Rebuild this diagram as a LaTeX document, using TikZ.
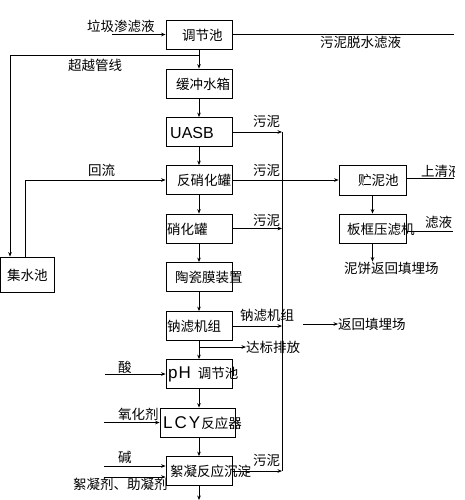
\documentclass[tikz,border=0pt]{standalone}
\usepackage{fontspec}
\setmainfont{Noto Sans CJK SC}
\newfontfamily\latinf{Liberation Sans}
\usetikzlibrary{arrows.meta,calc}
\begin{document}
\begin{tikzpicture}[x=1pt,y=-1pt,
  box/.style={draw, line width=0.8pt, minimum width=66pt, minimum height=29pt, inner sep=0pt},
  lbl/.style={inner sep=0pt, anchor=west, font=\fontsize{13.5}{14}\selectfont},
  arr/.style={-{Stealth[length=4.5pt,width=3.6pt]}, line width=0.8pt},
  ln/.style={line width=0.8pt}]
\useasboundingbox (0,0) rectangle (464,500);
% boxes
\node[box] (tj) at (199,34.5) {};
\node[box] (hc) at (199,83.5) {};
\node[box] (uasb) at (199,132) {};
\node[box] (fx) at (199,180) {};
\node[box] (xh) at (199,228.5) {};
\node[box] (tc) at (199,277) {};
\node[box] (nl) at (199,326) {};
\node[box] (ph) at (199,374) {};
\node[box, minimum width=75pt] (lcy) at (197.5,422.5) {};
\node[box] (xn) at (199,471) {};
\node[box, minimum width=54pt, minimum height=35pt] (js) at (27.5,274.5) {};
\node[box, minimum width=67pt, minimum height=30pt] (zn) at (372.5,180) {};
\node[box, minimum width=67pt] (bk) at (372.5,228.5) {};
% box texts
\node[lbl] (ttj) at (182,35) {调节池};
\node[lbl] (thc) at (176,84) {缓冲水箱};
\node[lbl, font=\latinf\fontsize{16}{16}\selectfont] (tuasb) at (170,133) {UASB};
\node[lbl] (tfx) at (177,180) {反硝化罐};
\node[lbl] (txh) at (167,229) {硝化罐};
\node[lbl] (ttc) at (175,277) {陶瓷膜装置};
\node[lbl] (tnl) at (167,326) {钠滤机组};
\node[lbl] (tph) at (168,374) {{\latinf\fontsize{17}{17}\selectfont p\kern1ptH}\hspace{7pt}调节池};
\node[lbl] (tlcy) at (163,423) {{\latinf\fontsize{17}{17}\selectfont L\kern2ptC\kern2ptY}\hspace{1pt}反应器};
\node[lbl] (txn) at (170,471) {絮凝反应沉淀};
\node[lbl] (tjs) at (7,275) {集水池};
\node[lbl] (tzn) at (358,180) {贮泥池};
\node[lbl] (tbk) at (347,229) {板框压滤机};
% labels
\node[lbl] (l1) at (87,26) {垃圾渗滤液};
\node[lbl] (l2) at (320,42) {污泥脱水滤液};
\node[lbl] (l3) at (68,65) {超越管线};
\node[lbl] (l4) at (253,121.5) {污泥};
\node[lbl] (l5) at (88,170.5) {回流};
\node[lbl] (l6) at (253,170) {污泥};
\begin{scope}
  \clip (400,150) rectangle (454,200);
  \node[lbl] (l7) at (421,171) {上清液};
\end{scope}
\node[lbl] (l8) at (253,220) {污泥};
\node[lbl] (l9) at (425,222) {滤液};
\node[lbl] (l10) at (344,268) {泥饼返回填埋场};
\node[lbl] (l11) at (240,315) {钠滤机组};
\node[lbl] (l12) at (338,324) {返回填埋场};
\node[lbl] (l13) at (246,347) {达标排放};
\node[lbl] (l14) at (118,367.5) {酸};
\node[lbl] (l15) at (118,414) {氧化剂};
\node[lbl] (l16) at (118,457.5) {碱};
\node[lbl] (l17) at (73,484) {絮凝剂、助凝剂};
\node[lbl] (l18) at (253,460) {污泥};
% coordinates
\coordinate (in0) at (112,34.5);
\coordinate (r1) at (454,34.5);
\coordinate (bp) at (199,55);
\coordinate (bpl) at (10,55);
\coordinate (sx) at (282,0);
\coordinate (db) at (199,347);
\coordinate (fh) at (303,324);
\coordinate (sq) at (454,178);
\coordinate (lyc) at (453,231);
\coordinate (c1) at (105,374);
\coordinate (c2) at (104,422.5);
\coordinate (c3) at (104,466);
\coordinate (c4) at (104,477);
\coordinate (out) at (199,500);
% main flow
\draw[arr] (in0) -- (tj.west);
\draw[ln] (tj.east) -- (r1);
\draw[arr] (tj.south) -- (hc.north);
\draw[arr] (hc.south) -- (uasb.north);
\draw[arr] (uasb.south) -- (fx.north);
\draw[arr] (fx.south) -- (xh.north);
\draw[arr] (xh.south) -- (tc.north);
\draw[arr] (tc.south) -- (nl.north);
\draw[arr] (nl.south) -- (ph.north);
\draw[arr] (ph.south) -- (ph.south |- lcy.north);
\draw[arr] (lcy.south -| xn.north) -- (xn.north);
\draw[arr] (xn.south) -- (out);
% bypass and return
\draw[arr] (bp) -- (bpl) -- (bpl |- js.north);
\draw[arr] ([xshift=-2pt]js.north) |- (fx.west);
% sludge
\draw[arr] (uasb.east) -- (uasb.east -| sx);
\draw[arr] (xh.east) -- (xh.east -| sx);
\draw[arr] (nl.east) -- (nl.east -| sx);
\draw[arr] (xn.east) -- (xn.east -| sx);
\draw[ln] (uasb.east -| sx) -- (xn.east -| sx);
\draw[arr] (fx.east) -- (zn.west);
\draw[arr] (db) -- (l13.west);
\draw[arr] (fh) -- (l12.west);
\draw[arr] (zn.south) -- (bk.north);
\draw[ln] (zn.east |- sq) -- (sq);
\draw[ln] (bk.east |- lyc) -- (lyc);
\draw[arr] (bk.south) -- (bk.south |- l10.north);
% chemicals
\draw[arr] (c1) -- (ph.west);
\draw[arr] (c2) -- (lcy.west);
\draw[arr] (c3) -- (c3 -| xn.west);
\draw[arr] (c4) -- (c4 -| xn.west);
\end{tikzpicture}
\end{document}
